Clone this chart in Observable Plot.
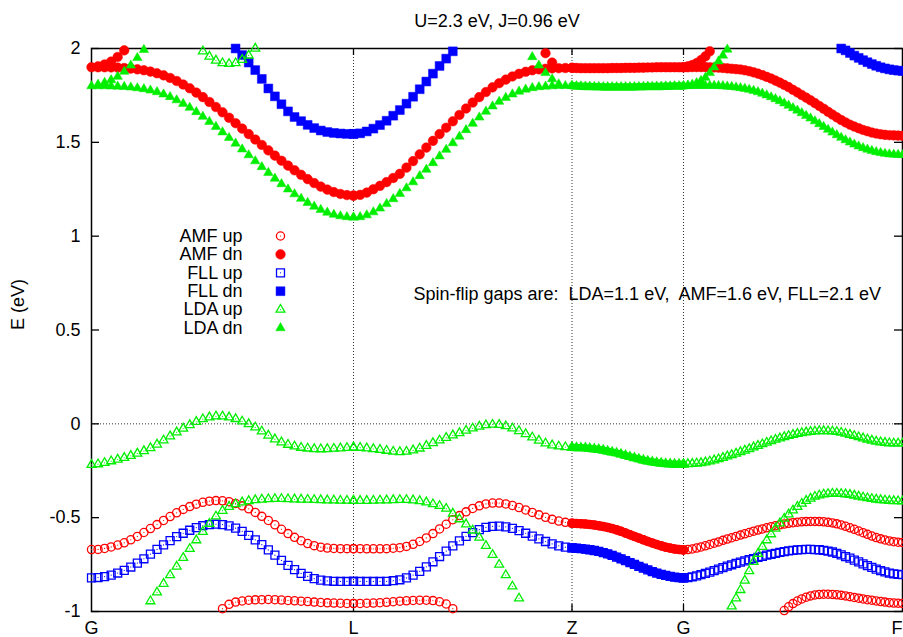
<!DOCTYPE html>
<html><head><meta charset="utf-8">
<script src="https://cdn.jsdelivr.net/npm/d3@7"></script>
<script src="https://cdn.jsdelivr.net/npm/@observablehq/plot@0.6"></script>
<style>body{margin:0;background:#fff}</style>
</head><body><div id="chart"></div>
<script>
// ---------- texts & ticks ----------
const titleText = "U=2.3 eV, J=0.96 eV";
const yAxisLabel = "E (eV)";
const noteText = "Spin-flip gaps are:\u00a0 LDA=1.1 eV,\u00a0 AMF=1.6 eV, FLL=2.1 eV";
const kTickPos = [0, 262, 480.5, 592, 811];          // path distance of G, L, Z, G, F
const kTickLabels = ["G", "L", "Z", "G", "F"];
const yTickValues = [-1, -0.5, 0, 0.5, 1, 1.5, 2];
const yTickLabels = ["-1", "-0.5", "0", "0.5", "1", "1.5", "2"];
const sampleCounts = [40, 33, 25, 50];               // k-intervals per path segment

// ---------- series ----------
const seriesNames   = ["AMF up", "AMF dn", "FLL up", "FLL dn", "LDA up", "LDA dn"];
const seriesColors  = ["#ff0000", "#ff0000", "#0000ff", "#0000ff", "#00ee00", "#00ee00"];
const seriesSymbols = ["circle", "circle", "square", "square", "triangle", "triangle"];
const seriesFilled  = [false, true, false, true, false, true];

// ---------- band energies (eV) ----------
// AMF up
const amfUp_GL = [-0.670,-0.669,-0.664,-0.656,-0.646,-0.634,-0.618,-0.600,-0.579,-0.558,-0.537,-0.515,-0.494,-0.474,-0.456,-0.441,-0.428,-0.418,-0.412,-0.409,-0.410,-0.415,-0.424,-0.437,-0.453,-0.472,-0.493,-0.515,-0.538,-0.562,-0.585,-0.605,-0.623,-0.638,-0.649,-0.657,-0.662,-0.664,-0.665,-0.665,-0.665];
const amfUp_LZ = [-0.665,-0.665,-0.666,-0.666,-0.666,-0.665,-0.663,-0.660,-0.653,-0.642,-0.627,-0.608,-0.585,-0.560,-0.535,-0.511,-0.489,-0.469,-0.451,-0.437,-0.427,-0.422,-0.422,-0.427,-0.435,-0.446,-0.459,-0.472,-0.485,-0.498,-0.509,-0.518,-0.525,-0.530];
const amfUp_ZG = [-0.530,-0.531,-0.532,-0.534,-0.536,-0.539,-0.543,-0.547,-0.552,-0.558,-0.565,-0.573,-0.582,-0.591,-0.600,-0.609,-0.618,-0.627,-0.635,-0.643,-0.650,-0.657,-0.662,-0.667,-0.670,-0.672];
const amfUp_GF = [-0.672,-0.670,-0.667,-0.662,-0.656,-0.650,-0.643,-0.636,-0.629,-0.621,-0.614,-0.607,-0.600,-0.593,-0.586,-0.579,-0.572,-0.566,-0.560,-0.554,-0.548,-0.543,-0.538,-0.534,-0.530,-0.527,-0.524,-0.522,-0.521,-0.520,-0.520,-0.521,-0.522,-0.525,-0.528,-0.533,-0.539,-0.546,-0.554,-0.562,-0.571,-0.580,-0.589,-0.598,-0.606,-0.613,-0.619,-0.624,-0.628,-0.631,-0.632];
const amfUpLow_GL = [-0.985,-0.962,-0.950,-0.944,-0.940,-0.938,-0.937,-0.936,-0.937,-0.939,-0.941,-0.943,-0.945,-0.947,-0.950,-0.952,-0.954,-0.955,-0.956,-0.957,-0.957];
const amfUpLow_LZ = [-0.957,-0.957,-0.956,-0.955,-0.953,-0.951,-0.948,-0.945,-0.943,-0.941,-0.940,-0.940,-0.942,-0.948,-0.960,-0.985];
const amfUpLow_GF = [-0.995,-0.975,-0.958,-0.944,-0.933,-0.924,-0.917,-0.912,-0.909,-0.908,-0.908,-0.909,-0.911,-0.914,-0.917,-0.921,-0.925,-0.929,-0.933,-0.937,-0.940,-0.944,-0.947,-0.950,-0.953,-0.955,-0.956,-0.957];
// AMF dn
const amfDn_GL = [1.900,1.900,1.900,1.899,1.898,1.896,1.893,1.889,1.884,1.877,1.868,1.857,1.843,1.827,1.808,1.788,1.765,1.741,1.715,1.688,1.660,1.631,1.602,1.573,1.544,1.515,1.486,1.457,1.429,1.402,1.376,1.351,1.327,1.304,1.283,1.264,1.248,1.235,1.225,1.219,1.216];
const amfDn_LZ = [1.216,1.220,1.232,1.250,1.268,1.288,1.310,1.332,1.365,1.400,1.436,1.472,1.508,1.544,1.578,1.612,1.646,1.680,1.712,1.741,1.768,1.793,1.815,1.834,1.851,1.865,1.876,1.884,1.889,1.892,1.894,1.895,1.896,1.897];
const amfDn_ZG = [1.897,1.896,1.895,1.895,1.895,1.895,1.895,1.895,1.895,1.896,1.896,1.896,1.897,1.897,1.897,1.898,1.898,1.899,1.899,1.900,1.900,1.900,1.900,1.900,1.900,1.900];
const amfDn_GF = [1.900,1.900,1.901,1.901,1.901,1.901,1.900,1.899,1.898,1.896,1.894,1.892,1.890,1.888,1.884,1.879,1.873,1.866,1.858,1.849,1.840,1.829,1.818,1.806,1.794,1.780,1.766,1.752,1.738,1.724,1.709,1.694,1.679,1.663,1.648,1.633,1.619,1.606,1.594,1.584,1.575,1.566,1.559,1.552,1.547,1.543,1.540,1.538,1.537,1.536,1.535];
const amfDnBranchG_GL = [1.905,1.915,1.930,1.955,1.990];
const amfDnBranchZ_LZ = [1.975,1.925];
const amfDnBranchG_GF = [1.905,1.912,1.922,1.938,1.958,1.985];
// FLL up
const fllUp_GL = [-0.821,-0.819,-0.814,-0.806,-0.795,-0.781,-0.763,-0.742,-0.719,-0.694,-0.669,-0.645,-0.622,-0.601,-0.583,-0.567,-0.553,-0.543,-0.537,-0.535,-0.537,-0.544,-0.556,-0.573,-0.594,-0.618,-0.644,-0.672,-0.700,-0.728,-0.754,-0.777,-0.797,-0.813,-0.825,-0.833,-0.837,-0.839,-0.840,-0.840,-0.840];
const fllUp_LZ = [-0.840,-0.840,-0.840,-0.840,-0.840,-0.839,-0.836,-0.831,-0.821,-0.806,-0.786,-0.762,-0.735,-0.707,-0.678,-0.650,-0.624,-0.600,-0.580,-0.564,-0.552,-0.546,-0.545,-0.549,-0.557,-0.569,-0.583,-0.598,-0.613,-0.627,-0.640,-0.650,-0.657,-0.661];
const fllUp_ZG = [-0.661,-0.663,-0.665,-0.668,-0.671,-0.675,-0.680,-0.686,-0.693,-0.701,-0.710,-0.719,-0.729,-0.739,-0.749,-0.759,-0.769,-0.778,-0.787,-0.795,-0.802,-0.808,-0.813,-0.817,-0.820,-0.821];
const fllUp_GF = [-0.821,-0.819,-0.815,-0.810,-0.804,-0.797,-0.790,-0.782,-0.774,-0.766,-0.758,-0.751,-0.744,-0.737,-0.730,-0.724,-0.718,-0.712,-0.706,-0.700,-0.695,-0.690,-0.685,-0.681,-0.677,-0.674,-0.672,-0.670,-0.669,-0.669,-0.670,-0.671,-0.674,-0.678,-0.683,-0.690,-0.698,-0.707,-0.716,-0.726,-0.736,-0.746,-0.756,-0.765,-0.774,-0.782,-0.789,-0.795,-0.799,-0.802,-0.804];
// FLL dn
const fllDn_GL = [2.000,1.965,1.925,1.885,1.838,1.787,1.745,1.703,1.665,1.635,1.613,1.593,1.576,1.563,1.555,1.550,1.547,1.545,1.545];
const fllDn_LZ = [1.545,1.548,1.558,1.573,1.592,1.615,1.642,1.672,1.706,1.743,1.783,1.824,1.866,1.907,1.946,1.985];
const fllDn_GF = [2.000,1.990,1.976,1.962,1.950,1.938,1.927,1.917,1.908,1.900,1.894,1.889,1.885,1.882,1.880];
// LDA up
const ldaUp_GL = [-0.218,-0.215,-0.208,-0.199,-0.190,-0.181,-0.170,-0.158,-0.145,-0.129,-0.110,-0.088,-0.066,-0.045,-0.025,-0.006,0.011,0.025,0.035,0.040,0.040,0.035,0.026,0.013,-0.001,-0.019,-0.040,-0.062,-0.082,-0.098,-0.111,-0.120,-0.127,-0.131,-0.134,-0.135,-0.134,-0.132,-0.130,-0.128,-0.126];
const ldaUp_LZ = [-0.126,-0.127,-0.130,-0.134,-0.138,-0.143,-0.148,-0.150,-0.148,-0.141,-0.131,-0.117,-0.102,-0.088,-0.074,-0.061,-0.049,-0.036,-0.024,-0.014,-0.007,-0.004,-0.005,-0.012,-0.024,-0.038,-0.054,-0.072,-0.089,-0.104,-0.114,-0.120,-0.124,-0.126];
const ldaUp_ZG = [-0.126,-0.127,-0.128,-0.129,-0.131,-0.134,-0.137,-0.141,-0.146,-0.151,-0.156,-0.162,-0.169,-0.176,-0.182,-0.188,-0.194,-0.199,-0.203,-0.207,-0.210,-0.213,-0.214,-0.215,-0.215,-0.215];
const ldaUp_GF = [-0.215,-0.214,-0.213,-0.211,-0.209,-0.205,-0.200,-0.194,-0.188,-0.181,-0.173,-0.166,-0.158,-0.150,-0.142,-0.134,-0.125,-0.117,-0.108,-0.100,-0.092,-0.084,-0.077,-0.070,-0.064,-0.058,-0.053,-0.049,-0.045,-0.042,-0.040,-0.038,-0.038,-0.039,-0.040,-0.043,-0.047,-0.052,-0.058,-0.064,-0.071,-0.077,-0.083,-0.089,-0.094,-0.098,-0.101,-0.103,-0.104,-0.104,-0.104];
const ldaUp2_GL = [-0.945,-0.898,-0.852,-0.806,-0.760,-0.714,-0.666,-0.620,-0.575,-0.532,-0.493,-0.463,-0.442,-0.428,-0.418,-0.411,-0.406,-0.403,-0.401,-0.400,-0.400,-0.401,-0.402,-0.403,-0.404,-0.405,-0.406,-0.407,-0.408,-0.409,-0.409,-0.410];
const ldaUp2_LZ = [-0.410,-0.410,-0.410,-0.409,-0.408,-0.407,-0.406,-0.405,-0.405,-0.407,-0.411,-0.418,-0.428,-0.437,-0.452,-0.478,-0.508,-0.535,-0.568,-0.606,-0.650,-0.698,-0.750,-0.806,-0.866,-0.930];
const ldaUp2_GF = [-0.972,-0.930,-0.885,-0.835,-0.785,-0.735,-0.692,-0.655,-0.620,-0.588,-0.558,-0.530,-0.505,-0.482,-0.461,-0.442,-0.425,-0.410,-0.398,-0.388,-0.381,-0.376,-0.373,-0.372,-0.372,-0.373,-0.375,-0.378,-0.382,-0.387,-0.392,-0.396,-0.400,-0.403,-0.406,-0.408,-0.410,-0.411,-0.412,-0.413];
const ldaUpTop_GL = [1.985,1.957,1.936,1.922,1.918,1.922,1.940,1.963,2.000];
// LDA dn
const ldaDn_GL = [1.800,1.800,1.800,1.799,1.798,1.796,1.793,1.789,1.784,1.777,1.768,1.756,1.742,1.725,1.706,1.685,1.662,1.637,1.610,1.583,1.554,1.524,1.494,1.463,1.432,1.400,1.369,1.338,1.307,1.278,1.250,1.224,1.200,1.178,1.158,1.141,1.126,1.115,1.107,1.102,1.100];
const ldaDn_LZ = [1.100,1.102,1.112,1.128,1.148,1.172,1.198,1.226,1.256,1.288,1.321,1.355,1.390,1.426,1.461,1.496,1.531,1.566,1.600,1.633,1.664,1.692,1.717,1.738,1.756,1.771,1.782,1.790,1.795,1.798,1.800,1.801,1.801,1.801];
const ldaDn_ZG = [1.801,1.800,1.799,1.798,1.797,1.796,1.796,1.795,1.795,1.795,1.795,1.795,1.795,1.795,1.795,1.796,1.796,1.797,1.797,1.798,1.798,1.799,1.799,1.800,1.800,1.800];
const ldaDn_GF = [1.800,1.801,1.801,1.802,1.802,1.802,1.802,1.802,1.801,1.800,1.798,1.796,1.793,1.790,1.786,1.781,1.775,1.768,1.760,1.751,1.741,1.731,1.720,1.708,1.696,1.683,1.670,1.656,1.642,1.628,1.613,1.598,1.583,1.568,1.553,1.539,1.525,1.512,1.500,1.489,1.479,1.470,1.462,1.455,1.449,1.444,1.440,1.437,1.435,1.434,1.433];
const ldaDnBranchG_GL = [1.808,1.818,1.832,1.850,1.877,1.910,1.950,1.993];
const ldaDnBranchZ_LZ = [1.955,1.910,1.870,1.837,1.810];
const ldaDnBranchG_GF = [1.803,1.808,1.816,1.828,1.845,1.870,1.900,1.932,1.963,1.995];

// series, path segment (0 G-L, 1 L-Z, 2 Z-G, 3 G-F), first k-sample, energies
const bandTable = [
  ["AMF up", 0, 0, amfUp_GL], ["AMF up", 1, 0, amfUp_LZ], ["AMF up", 2, 0, amfUp_ZG], ["AMF up", 3, 0, amfUp_GF],
  ["AMF up", 0, 20, amfUpLow_GL], ["AMF up", 1, 0, amfUpLow_LZ], ["AMF up", 3, 23, amfUpLow_GF],
  ["AMF dn", 0, 0, amfDn_GL], ["AMF dn", 1, 0, amfDn_LZ], ["AMF dn", 2, 0, amfDn_ZG], ["AMF dn", 3, 0, amfDn_GF],
  ["AMF dn", 0, 1, amfDnBranchG_GL], ["AMF dn", 1, 29, amfDnBranchZ_LZ], ["AMF dn", 3, 1, amfDnBranchG_GF],
  ["FLL up", 0, 0, fllUp_GL], ["FLL up", 1, 0, fllUp_LZ], ["FLL up", 2, 0, fllUp_ZG], ["FLL up", 3, 0, fllUp_GF],
  ["FLL dn", 0, 22, fllDn_GL], ["FLL dn", 1, 0, fllDn_LZ], ["FLL dn", 3, 36, fllDn_GF],
  ["LDA up", 0, 0, ldaUp_GL], ["LDA up", 1, 0, ldaUp_LZ], ["LDA up", 2, 0, ldaUp_ZG], ["LDA up", 3, 0, ldaUp_GF],
  ["LDA up", 0, 9, ldaUp2_GL], ["LDA up", 1, 0, ldaUp2_LZ], ["LDA up", 3, 11, ldaUp2_GF],
  ["LDA up", 0, 17, ldaUpTop_GL],
  ["LDA dn", 0, 0, ldaDn_GL], ["LDA dn", 1, 0, ldaDn_LZ], ["LDA dn", 2, 0, ldaDn_ZG], ["LDA dn", 3, 0, ldaDn_GF],
  ["LDA dn", 0, 1, ldaDnBranchG_GL], ["LDA dn", 1, 27, ldaDnBranchZ_LZ], ["LDA dn", 3, 1, ldaDnBranchG_GF]
];

// k-sample positions for each segment, between its two high-symmetry ticks
const kGrids = sampleCounts.map((n, s) =>
  d3.range(n + 1).map(i => kTickPos[s] + (kTickPos[s + 1] - kTickPos[s]) * i / n));

const points = bandTable.flatMap(([series, seg, start, vals], b) =>
  vals.map((E, i) => ({series, seg, band: b, k: kGrids[seg][start + i], E})));

const symbolR = {circle: [4.1, 4.8], square: [4.5, 5.0], triangle: [3.3, 3.5]};
const zgWidth = {circle: 9, square: 9, triangle: 7.5};

const font = "'Liberation Sans', Arial, Helvetica, sans-serif";
const innerTicks = kTickPos.slice(1, -1);
const marks = [
  Plot.ruleX(innerTicks, {stroke: "#333", strokeDasharray: "1,2", strokeWidth: 1}),
  Plot.ruleY([0], {stroke: "#333", strokeDasharray: "1,2", strokeWidth: 1}),
  Plot.frame({stroke: "black", strokeWidth: 1.5}),
  Plot.tickY(yTickValues, {y: d => d, insetRight: 803, stroke: "black", strokeWidth: 1.3}),
  Plot.tickY(yTickValues, {y: d => d, insetLeft: 803, stroke: "black", strokeWidth: 1.3}),
  Plot.tickX(innerTicks, {x: d => d, insetTop: 556, stroke: "black", strokeWidth: 1.3}),
  Plot.tickX(innerTicks, {x: d => d, insetBottom: 556, stroke: "black", strokeWidth: 1.3}),
  // x tick labels (the last one is kept inside the picture)
  Plot.text(kTickPos.slice(0, -1), {x: d => d, text: (d, i) => kTickLabels[i], frameAnchor: "bottom",
    lineAnchor: "top", dy: 10, textAnchor: "middle", fill: "black"}),
  Plot.text(kTickPos.slice(-1), {x: d => d, text: () => kTickLabels[kTickLabels.length - 1], frameAnchor: "bottom",
    lineAnchor: "top", dy: 10, textAnchor: "end", fill: "black"})
];

seriesNames.forEach((name, si) => {
  const color = seriesColors[si], sym = seriesSymbols[si], filled = seriesFilled[si];
  const rows = points.filter(d => d.series === name);
  const r = symbolR[sym][filled ? 1 : 0];
  marks.push(Plot.line(rows.filter(d => d.seg === 2), {x: "k", y: "E", z: "band", stroke: color, strokeWidth: zgWidth[sym]}));
  marks.push(Plot.dot(rows, {x: "k", y: "E", symbol: sym, r,
    fill: filled ? color : "none", stroke: color, strokeWidth: filled ? 0.5 : 1.3}));
  if (!filled) marks.push(Plot.dot(rows, {x: "k", y: "E", r: 0.6, fill: color, stroke: "none"}));
  // legend row
  const dy = 187.5 + si * 18.4;
  marks.push(Plot.text([name], {frameAnchor: "top-left", lineAnchor: "middle", dx: 151, dy, textAnchor: "end", fill: "black"}));
  marks.push(Plot.dot([name], {frameAnchor: "top-left", dx: 189, dy, symbol: sym, r,
    fill: filled ? color : "none", stroke: color, strokeWidth: filled ? 0.5 : 1.3}));
  if (!filled) marks.push(Plot.dot([name], {frameAnchor: "top-left", dx: 189, dy, r: 0.6, fill: color, stroke: "none"}));
});

marks.push(
  Plot.text([titleText], {frameAnchor: "top", lineAnchor: "middle", dy: -27.5, fill: "black"}),
  Plot.text([yAxisLabel], {frameAnchor: "left", lineAnchor: "middle", dx: -73.5, rotate: -90, fill: "black"}),
  Plot.text([noteText], {frameAnchor: "top-left", lineAnchor: "middle", dx: 322, dy: 246, textAnchor: "start", fill: "black"})
);

const chart = Plot.plot({
  width: 903, height: 637,
  marginLeft: 91, marginRight: 1, marginTop: 48, marginBottom: 26,
  style: {fontFamily: font, fontSize: "18px", background: "white", color: "black"},
  x: {domain: [kTickPos[0], kTickPos[kTickPos.length - 1]], axis: null},
  y: {domain: [-1, 2], ticks: yTickValues,
      tickFormat: d => yTickLabels[yTickValues.indexOf(d)], tickSize: 0, tickPadding: 11, label: null},
  marks
});
document.getElementById("chart").appendChild(chart);
</script>
</body></html>
